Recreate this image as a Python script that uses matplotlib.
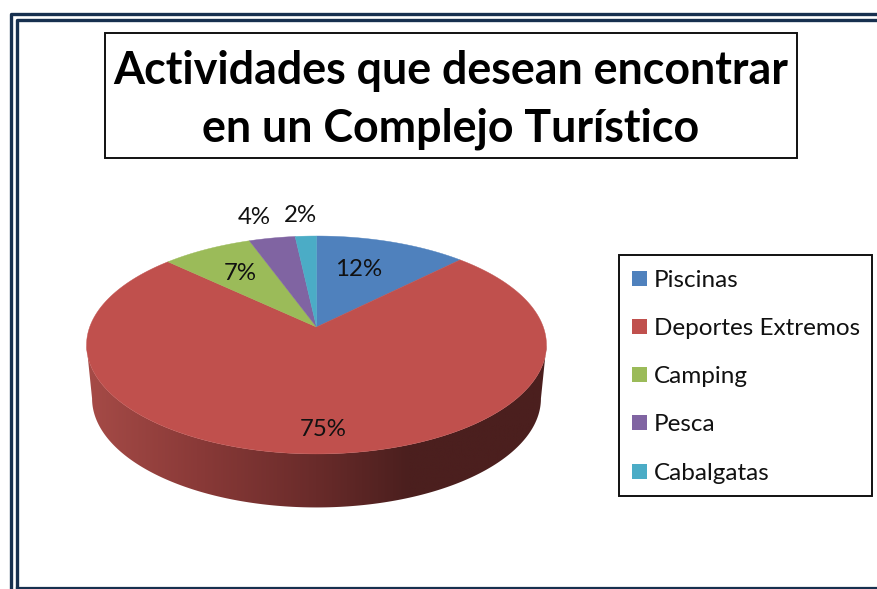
import matplotlib
matplotlib.use("Agg")
import matplotlib.pyplot as plt
import numpy as np
from matplotlib.colors import LinearSegmentedColormap
from matplotlib.patches import Polygon, Rectangle

categories = ["Piscinas", "Deportes Extremos", "Camping", "Pesca", "Cabalgatas"]
values = [12.5, 74.5, 7.45, 3.8, 1.75]
labels = ["12%", "75%", "7%", "4%", "2%"]
colors = ["#4f81bd", "#c0504d", "#9bbb59", "#8064a2", "#4bacc6"]
title_lines = ["Actividades que desean encontrar", "en un Complejo Turístico"]

NAVY = "#17304f"
W, H = 878, 589

plt.rcParams["font.family"] = ["Lato", "DejaVu Sans"]


def project(theta, drop=0.0, scale=1.0):
    # circle to screen, with the near edge bigger like a tilted 3D pie
    u, v = np.sin(theta), -np.cos(theta)
    k = -0.165
    d = 1 + k * v
    return 316.5 + scale * 226.8 * u / d, 327 + drop + 106 * v / d


fig = plt.figure(figsize=(W / 100, H / 100), dpi=100)
ax = fig.add_axes([0, 0, 1, 1])
ax.set_xlim(0, W)
ax.set_ylim(H, 0)
ax.axis("off")

# double frame, runs off the right side of the picture
ax.plot([W + 5, 10.7, 10.7], [13.7, 13.7, H + 5], color=NAVY, lw=2.4)
ax.plot([W + 5, 17.3, 17.3], [20.3, 20.3, H + 5], color=NAVY, lw=2.4)
ax.plot([17, W + 5], [587.5, 587.5], color=NAVY, lw=1.6)

# title box
ax.add_patch(Rectangle((105, 33), 692, 125, fc="white", ec="#111111", lw=1.4))
ax.text(451, 84, title_lines[0], ha="center", va="baseline", fontsize=32.2, fontweight="bold")
ax.text(451, 141, title_lines[1], ha="center", va="baseline", fontsize=32.2, fontweight="bold")

# side wall with left to right shading
t = np.linspace(np.pi / 2 + 0.166, 3 * np.pi / 2 - 0.166, 200)
tx, ty = project(t)
bx, by = project(t, drop=53.5, scale=0.976)
wall = Polygon(np.column_stack([np.r_[tx, bx[::-1]], np.r_[ty, by[::-1]]]), fc="none", ec="none")
ax.add_patch(wall)
side_cmap = LinearSegmentedColormap.from_list(
    "side", [(0, "#a64b47"), (0.24, "#8a3a38"), (0.5, "#692b2a"), (0.7, "#4b1f1e"), (1, "#4b1f1e")]
)
grad = ax.imshow(np.linspace(0, 1, 256).reshape(1, -1), extent=[86, 547, 510, 340],
                 cmap=side_cmap, aspect="auto", zorder=1)
grad.set_clip_path(wall)
ax.set_xlim(0, W)
ax.set_ylim(H, 0)

# top of the pie, clockwise from 12 o'clock
edges = np.r_[0, np.cumsum(values)] / sum(values) * 2 * np.pi
for i, c in enumerate(colors):
    th = np.linspace(edges[i], edges[i + 1], 200)
    x, y = project(th)
    ax.add_patch(Polygon(np.column_stack([np.r_[316.5, x], np.r_[327, y]]), fc=c, ec=c, lw=0.3, zorder=2))

# percent labels
label_pos = [(359, 270), (323, 430), (240, 274), (254, 218), (300, 216)]
for s, (lx, ly) in zip(labels, label_pos):
    ax.text(lx, ly, s, ha="center", va="center", fontsize=17.3, color="#111111", zorder=3)

# legend
ax.add_patch(Rectangle((619, 254.5), 253, 241, fc="white", ec="#111111", lw=1.4, zorder=3))
legend_y = [279, 327, 375, 423, 472]
for name, c, ly in zip(categories, colors, legend_y):
    ax.add_patch(Rectangle((632, ly - 8), 15, 15, fc=c, ec="none", zorder=4))
    ax.text(654, ly + 1.5, name, ha="left", va="center", fontsize=17.5, color="#111111", zorder=4)

fig.savefig("out.png", dpi=100, facecolor="white")
